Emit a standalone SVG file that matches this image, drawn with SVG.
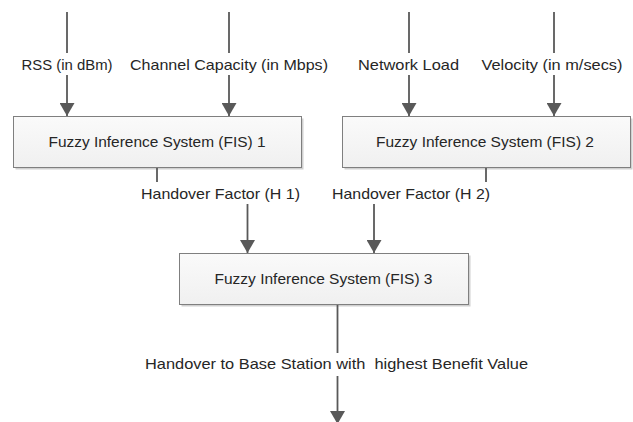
<svg xmlns="http://www.w3.org/2000/svg" width="633" height="422" viewBox="0 0 633 422">
<style>
.box{fill:url(#g);stroke:#7f7f7f;stroke-width:1}
.sh{fill:#d0d0d0}
.t{font-family:"Liberation Sans",Arial,sans-serif;font-size:15px;fill:#262626;text-anchor:middle}
.c{stroke:#595959;stroke-width:1.8;fill:none}
.a{marker-end:url(#ah)}
</style>
<defs>
<linearGradient id="g" x1="0" y1="0" x2="0" y2="1"><stop offset="0" stop-color="#fafafa"/><stop offset="1" stop-color="#f0f0f0"/></linearGradient>
<marker id="ah" markerUnits="userSpaceOnUse" viewBox="0 0 13 15" refX="13" refY="7.5" markerWidth="13" markerHeight="15" orient="auto"><path d="M0,0 L13,7.5 L0,15 z" fill="#595959"/></marker>
</defs>
<g id="fis1">
<rect class="sh" x="15.5" y="118.5" width="288" height="51"/>
<rect class="box" x="13.5" y="116.5" width="288" height="51"/>
<text class="t" x="157" y="147" textLength="217" lengthAdjust="spacingAndGlyphs">Fuzzy Inference System (FIS) 1</text>
</g>
<g id="fis2">
<rect class="sh" x="344.5" y="118.5" width="288" height="51"/>
<rect class="box" x="342.5" y="116.5" width="288" height="51"/>
<text class="t" x="485" y="147" textLength="218" lengthAdjust="spacingAndGlyphs">Fuzzy Inference System (FIS) 2</text>
</g>
<g id="fis3">
<rect class="sh" x="181.5" y="255.5" width="289" height="51"/>
<rect class="box" x="179.5" y="253.5" width="289" height="51"/>
<text class="t" x="323.5" y="284" textLength="218" lengthAdjust="spacingAndGlyphs">Fuzzy Inference System (FIS) 3</text>
</g>
<g id="connectors">
<line class="c" x1="67" y1="12" x2="67" y2="53"/>
<line class="c a" x1="67" y1="75" x2="67" y2="116"/>
<line class="c" x1="229" y1="12" x2="229" y2="53"/>
<line class="c a" x1="229" y1="75" x2="229" y2="116"/>
<line class="c" x1="409" y1="12" x2="409" y2="53"/>
<line class="c a" x1="409" y1="75" x2="409" y2="116"/>
<line class="c" x1="554" y1="12" x2="554" y2="53"/>
<line class="c a" x1="554" y1="75" x2="554" y2="116"/>
<line class="c" x1="157" y1="168" x2="157" y2="182"/>
<line class="c" x1="486" y1="168" x2="486" y2="182"/>
<line class="c a" x1="247.5" y1="204" x2="247.5" y2="253"/>
<line class="c a" x1="374" y1="204" x2="374" y2="253"/>
<line class="c" x1="337.5" y1="305" x2="337.5" y2="353"/>
<line class="c a" x1="337.5" y1="376" x2="337.5" y2="424"/>
</g>
<g id="labels">
<text class="t" x="67" y="70" textLength="91" lengthAdjust="spacingAndGlyphs">RSS (in dBm)</text>
<text class="t" x="229" y="70" textLength="198" lengthAdjust="spacingAndGlyphs">Channel Capacity (in Mbps)</text>
<text class="t" x="408.5" y="70" textLength="101" lengthAdjust="spacingAndGlyphs">Network Load</text>
<text class="t" x="552" y="70" textLength="141" lengthAdjust="spacingAndGlyphs">Velocity (in m/secs)</text>
<text class="t" x="220.5" y="199" textLength="159" lengthAdjust="spacingAndGlyphs">Handover Factor (H 1)</text>
<text class="t" x="411" y="199" textLength="158" lengthAdjust="spacingAndGlyphs">Handover Factor (H 2)</text>
<text class="t" x="336.5" y="369" textLength="383" lengthAdjust="spacingAndGlyphs" xml:space="preserve">Handover to Base Station with  highest Benefit Value</text>
</g>
</svg>
